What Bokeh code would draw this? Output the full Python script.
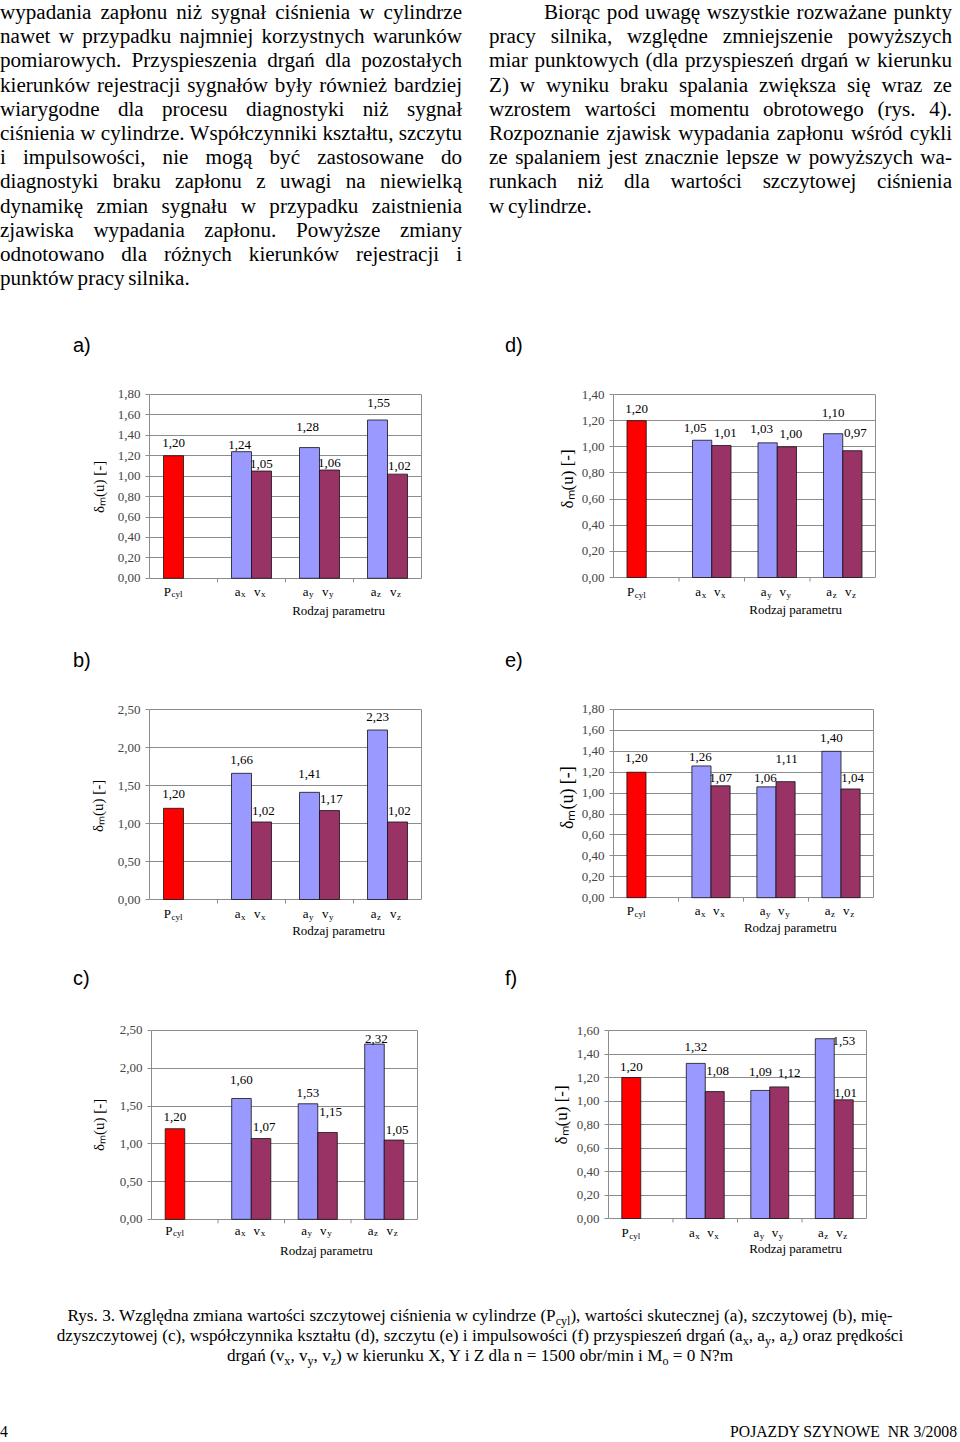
from bokeh.plotting import figure
from bokeh.models import Range1d, FixedTicker, LinearAxis, Grid, Div, CustomJSTickFormatter, Title
from bokeh.layouts import row, column
from bokeh.embed import file_html
from bokeh.resources import INLINE
from bokeh.core.properties import value

# ---------------- data ----------------
panel_ids = ["a", "b", "c", "d", "e", "f"]
pcyl_values = [1.20, 1.20, 1.20, 1.20, 1.20, 1.20]
acc_a = [1.24, 1.28, 1.55]
vel_a = [1.05, 1.06, 1.02]
acc_b = [1.66, 1.41, 2.23]
vel_b = [1.02, 1.17, 1.02]
acc_c = [1.60, 1.53, 2.32]
vel_c = [1.07, 1.15, 1.05]
acc_d = [1.05, 1.03, 1.10]
vel_d = [1.01, 1.00, 0.97]
acc_e = [1.26, 1.06, 1.40]
vel_e = [1.07, 1.11, 1.04]
acc_f = [1.32, 1.09, 1.53]
vel_f = [1.08, 1.12, 1.01]

ticks_a = [0.0, 0.2, 0.4, 0.6, 0.8, 1.0, 1.2, 1.4, 1.6, 1.8]
ticks_b = [0.0, 0.5, 1.0, 1.5, 2.0, 2.5]
ticks_c = [0.0, 0.5, 1.0, 1.5, 2.0, 2.5]
ticks_d = [0.0, 0.2, 0.4, 0.6, 0.8, 1.0, 1.2, 1.4]
ticks_e = [0.0, 0.2, 0.4, 0.6, 0.8, 1.0, 1.2, 1.4, 1.6, 1.8]
ticks_f = [0.0, 0.2, 0.4, 0.6, 0.8, 1.0, 1.2, 1.4, 1.6]

cat_main = ["P", "a", "v", "a", "v", "a", "v"]
cat_sub = ["cyl", "x", "x", "y", "y", "z", "z"]
y_axis_title = "δₘ(u) [-]"
x_axis_title = "Rodzaj parametru"

DATA = {
    "a": (pcyl_values[0], acc_a, vel_a, ticks_a),
    "b": (pcyl_values[1], acc_b, vel_b, ticks_b),
    "c": (pcyl_values[2], acc_c, vel_c, ticks_c),
    "d": (pcyl_values[3], acc_d, vel_d, ticks_d),
    "e": (pcyl_values[4], acc_e, vel_e, ticks_e),
    "f": (pcyl_values[5], acc_f, vel_f, ticks_f),
}

# ---------------- styling / layout ----------------
GRID = "#8c8c8c"
RED = "#FF0000"
BLUE = "#9999FF"
WINE = "#993366"
SERIF = "Liberation Serif"
BAR_W = 0.294
HALF = BAR_W / 2
AXIS_W = 32  # tick + standoff + tick-label width of the value axis (px)

LAYOUT = {
    "a": dict(fig_x0=0, fig_w=480, fig_top=380, bottom=622, left=149, right=421, top=390, zero=577,
              title_x=2.78, title_dy=33, cat_dy=13, ylab=15, ylab_cx=101.5, ylab_cy=487),
    "d": dict(fig_x0=480, fig_w=480, fig_top=380, bottom=622, left=613, right=875, top=394, zero=577,
              title_x=2.78, title_dy=32, cat_dy=14, ylab=17, ylab_cx=571, ylab_cy=479),
    "b": dict(fig_x0=0, fig_w=480, fig_top=698, bottom=940, left=149, right=421, top=709, zero=899,
              title_x=2.78, title_dy=31, cat_dy=14, ylab=15, ylab_cx=100.5, ylab_cy=806),
    "e": dict(fig_x0=480, fig_w=480, fig_top=698, bottom=940, left=613, right=873, top=708, zero=897,
              title_x=2.72, title_dy=30, cat_dy=13, ylab=18, ylab_cx=570, ylab_cy=798),
    "c": dict(fig_x0=0, fig_w=480, fig_top=1012, bottom=1260, left=151, right=417, top=1025, zero=1218,
              title_x=2.63, title_dy=32, cat_dy=11, ylab=15, ylab_cx=101.5, ylab_cy=1125),
    "f": dict(fig_x0=480, fig_w=480, fig_top=1012, bottom=1260, left=608, right=866, top=1030, zero=1218,
              title_x=2.90, title_dy=30, cat_dy=14, ylab=17, ylab_cx=565, ylab_cy=1115),
}

# value-label placement (dx, dy in px above bar top), order: Pcyl, ax, vx, ay, vy, az, vz
LABEL_NUDGE = {
    "a": [(0, 13), (-2, 7), (0, 7), (-2, 21), (0, 7), (1, 17), (2, 8)],
    "b": [(0, 14), (0, 13), (2, 11), (0, 18), (2, 12), (0, 13), (2, 11)],
    "c": [(0, 12), (0, 19), (3, 12), (0, 11), (3, 21), (2, 5), (3, 10)],
    "d": [(0, 12), (-7, 12), (4, 12), (-6, 14), (4, 13), (0, 21), (3, 18)],
    "e": [(0, 14), (-1, 9), (0, 8), (-1, 9), (1, 23), (0, 13), (2, 11)],
    "f": [(0, 11), (0, 16), (3, 21), (0, 18), (10, 14), (19, -2), (2, 7)],
}


def build_panel(pid):
    pc, acc, vel, ticks = DATA[pid]
    L = LAYOUT[pid]
    ymax = ticks[-1]
    ppu = (L["zero"] - L["top"]) / ymax
    ppx = (L["right"] - L["left"]) / 4.0
    y_end = ymax + 1.0 / ppu
    y_start = -(L["bottom"] - L["zero"]) / ppu
    p = figure(width=L["fig_w"], height=L["bottom"] - L["fig_top"],
               x_range=Range1d(0, 4), y_range=Range1d(y_start, y_end),
               x_axis_type=None, y_axis_type=None,
               output_backend="svg", toolbar_location=None,
               min_border_left=L["left"] - L["fig_x0"],
               min_border_right=L["fig_x0"] + L["fig_w"] - L["right"],
               min_border_top=L["top"] - 1 - L["fig_top"],
               min_border_bottom=0,
               outline_line_color=None)
    p.add_layout(Grid(dimension=1, ticker=FixedTicker(ticks=ticks),
                      grid_line_color=GRID, grid_line_width=1))

    xs1 = [0.5 - HALF] + [i + 0.5 - HALF for i in (1, 2, 3)]
    tops1 = [pc] + list(acc)
    cols1 = [RED, BLUE, BLUE, BLUE]
    xs2 = [i + 0.5 + HALF for i in (1, 2, 3)]
    p.vbar(x=xs1, top=tops1, width=BAR_W, bottom=0, fill_color=cols1,
           line_color="#111111", line_width=0.8)
    p.vbar(x=xs2, top=vel, width=BAR_W, bottom=0, fill_color=WINE,
           line_color="#111111", line_width=0.8)

    bar_x = [xs1[0], xs1[1], xs2[0], xs1[2], xs2[1], xs1[3], xs2[2]]
    bar_v = [pc, acc[0], vel[0], acc[1], vel[1], acc[2], vel[2]]
    nud = LABEL_NUDGE[pid]
    lx = [x + dx / ppx for x, (dx, dy) in zip(bar_x, nud)]
    ly = [v + dy / ppu for v, (dx, dy) in zip(bar_v, nud)]
    txt = [f"{v:.2f}".replace(".", ",") for v in bar_v]
    p.text(x=lx, y=ly, text=txt, text_align="center", text_baseline="middle",
           text_font=value(SERIF), text_font_size="13px", text_color="black")

    # category labels with subscripts
    split = [x - (2.5 if i == 0 else 1.0) / ppx for i, x in enumerate(bar_x)]
    p.text(x=split, y=[-L["cat_dy"] / ppu] * 7, text=cat_main, text_align="right",
           text_baseline="middle", text_font=value(SERIF), text_font_size="13px", text_color="black")
    p.text(x=[s + 0.6 / ppx for s in split], y=[-(L["cat_dy"] + 3) / ppu] * 7, text=cat_sub,
           text_align="left", text_baseline="middle", text_font=value(SERIF),
           text_font_size="9px", text_color="black")
    p.text(x=[L["title_x"]], y=[-L["title_dy"] / ppu], text=[x_axis_title], text_align="center",
           text_baseline="middle", text_font=value(SERIF), text_font_size="13px", text_color="black")

    # small category tick marks on the value-zero line
    p.segment(x0=[1, 2, 3], y0=[0, 0, 0], x1=[1, 2, 3], y1=[-4 / ppu] * 3,
              line_color=GRID, line_width=1)

    yax = LinearAxis(bounds=(0, ymax), ticker=FixedTicker(ticks=ticks),
                     formatter=CustomJSTickFormatter(code="return tick.toFixed(2).replace('.', ',');"),
                     major_label_text_font=SERIF, major_label_text_font_size="13px",
                     major_label_standoff=5, major_tick_out=4, major_tick_in=0,
                     minor_tick_line_color=None, axis_line_color=GRID,
                     major_tick_line_color=GRID)
    p.add_layout(yax, "left")

    # value-axis title, placed outside the tick labels
    size = L["ylab"]
    text_len = 3.4 * size
    sx_target = L["ylab_cx"] + size * 0.5
    standoff = max(0, int(round(2 * ((L["left"] - AXIS_W) - sx_target))))
    offset = L["bottom"] - (L["ylab_cy"] + text_len / 2)
    ttl = Title(text=y_axis_title, align="left", vertical_align="bottom",
                offset=offset, standoff=standoff, text_font=SERIF,
                text_font_size=f"{size}px", text_font_style="normal", text_color="black")
    p.add_layout(ttl, "left")

    rax = LinearAxis(bounds=(0, ymax), ticker=FixedTicker(ticks=[]),
                     major_label_text_font_size="0px", major_tick_line_color=None,
                     minor_tick_line_color=None, axis_line_color=GRID)
    p.add_layout(rax, "right")
    return p


# ---------------- text blocks ----------------
left_lines = [
    "wypadania zapłonu niż sygnał ciśnienia w cylindrze",
    "nawet w przypadku najmniej korzystnych warunków",
    "pomiarowych. Przyspieszenia drgań dla pozostałych",
    "kierunków rejestracji sygnałów były również bardziej",
    "wiarygodne dla procesu diagnostyki niż sygnał",
    "ciśnienia w cylindrze. Współczynniki kształtu, szczytu",
    "i impulsowości, nie mogą być zastosowane do",
    "diagnostyki braku zapłonu z uwagi na niewielką",
    "dynamikę zmian sygnału w przypadku zaistnienia",
    "zjawiska wypadania zapłonu. Powyższe zmiany",
    "odnotowano dla różnych kierunków rejestracji i",
    "punktów pracy silnika.",
]
right_lines = [
    "Biorąc pod uwagę wszystkie rozważane punkty",
    "pracy silnika, względne zmniejszenie powyższych",
    "miar punktowych (dla przyspieszeń drgań w kierunku",
    "Z) w wyniku braku spalania zwiększa się wraz ze",
    "wzrostem wartości momentu obrotowego (rys. 4).",
    "Rozpoznanie zjawisk wypadania zapłonu wśród cykli",
    "ze spalaniem jest znacznie lepsze w powyższych wa-",
    "runkach niż dla wartości szczytowej ciśnienia",
    "w cylindrze.",
]


def para_html(lines, left, width, indent=0):
    parts = []
    for i, ln in enumerate(lines):
        al = "left" if i == len(lines) - 1 else "justify"
        ind = f"text-indent:{indent}px;" if (i == 0 and indent) else ""
        parts.append(f'<div style="text-align:{al};text-align-last:{al};{ind}">{ln}</div>')
    return (f'<div style="margin-left:{left}px;width:{width}px;'
            f"font-family:'Liberation Serif',serif;font-size:21.1px;word-spacing:-1.5px;"
            f'line-height:24.2px;color:#000">' + "".join(parts) + "</div>")


def sub(s):
    return f'<span style="font-size:0.7em;vertical-align:-0.3em;line-height:0">{s}</span>'


caption_lines = [
    f"Rys. 3. Względna zmiana wartości szczytowej ciśnienia w cylindrze (P{sub('cyl')}), wartości skutecznej (a), szczytowej (b), mię-",
    f"dzyszczytowej (c), współczynnika kształtu (d), szczytu (e) i impulsowości (f) przyspieszeń drgań (a{sub('x')}, a{sub('y')}, a{sub('z')}) oraz prędkości",
    f"drgań (v{sub('x')}, v{sub('y')}, v{sub('z')}) w kierunku X, Y i Z dla n = 1500 obr/min i M{sub('o')} = 0 N?m",
]


def label_div(text, pad_left, pad_top, width, height):
    return Div(text=(f'<div style="padding-left:{pad_left}px;padding-top:{pad_top}px;'
                     f"font-family:'Liberation Sans',Arial,sans-serif;font-size:20px;"
                     f'line-height:24px;color:#000">{text}</div>'),
               width=width, height=height, margin=0)


txt_left = Div(text=para_html(left_lines, 0, 462), width=480, height=300, margin=0)
txt_right = Div(text=para_html(right_lines, 9, 463, indent=55), width=480, height=300, margin=0)

cap_html = ("<div style=\"padding-top:46px;padding-left:8px;width:952px;font-family:'Liberation Serif',serif;"
            "font-size:17.2px;line-height:20px;color:#000\">"
            + "".join(f'<div style="text-align:center;white-space:nowrap">{ln}</div>' for ln in caption_lines)
            + "</div>")
caption = Div(text=cap_html, width=960, height=110, margin=0)

footer = Div(text=("<div style=\"padding-top:53px;width:957px;display:flex;justify-content:space-between;"
                   "font-family:'Liberation Serif',serif;font-size:15.7px;line-height:18px;color:#000\">"
                   "<span>4</span><span>POJAZDY SZYNOWE&nbsp; NR 3/2008</span></div>"),
             width=960, height=72, margin=0)

figs = {pid: build_panel(pid) for pid in panel_ids}

layout = column(
    row(txt_left, txt_right),
    row(label_div("a)", 73, 33, 480, 80), label_div("d)", 25, 33, 480, 80)),
    row(figs["a"], figs["d"]),
    row(label_div("b)", 73, 26, 480, 76), label_div("e)", 25, 26, 480, 76)),
    row(figs["b"], figs["e"]),
    row(label_div("c)", 73, 26, 480, 72), label_div("f)", 25, 26, 480, 72)),
    row(figs["c"], figs["f"]),
    caption,
    footer,
)

with open("out.html", "w", encoding="utf-8") as fh:
    fh.write(file_html(layout, INLINE, title="Rys. 3"))
